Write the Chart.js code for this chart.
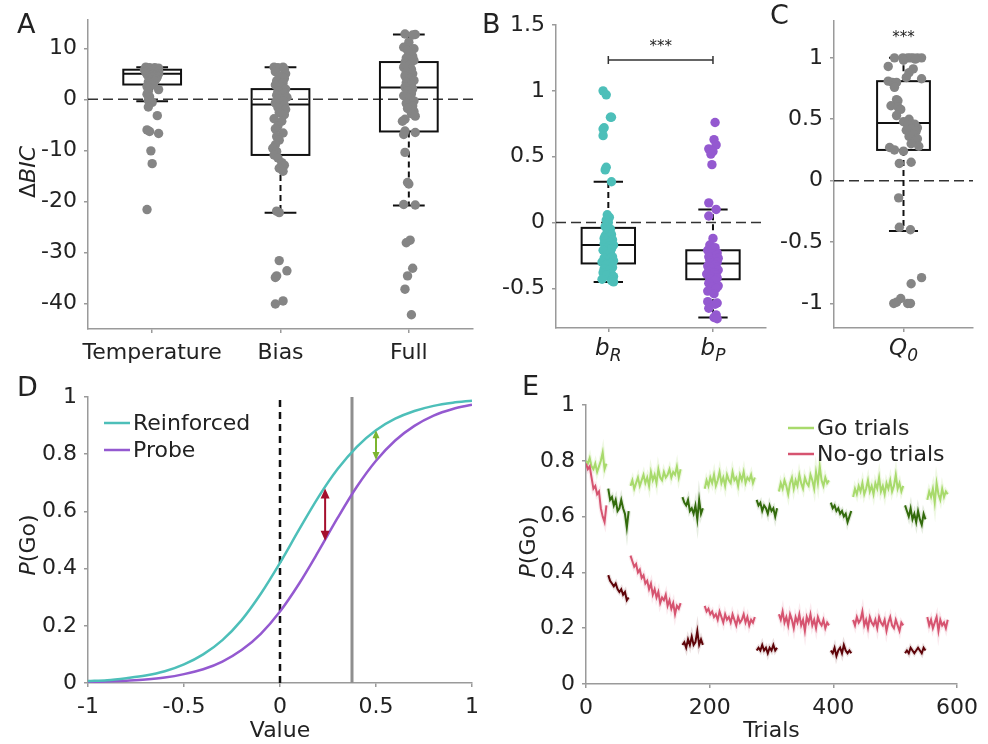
<!DOCTYPE html>
<html>
<head>
<meta charset="utf-8">
<script src="https://cdn.jsdelivr.net/npm/chart.js@4.4.1/dist/chart.umd.min.js"></script>
<style>
  html, body { margin: 0; padding: 0; background: #fff; }
  #fig { position: relative; width: 988px; height: 744px; background: #fff; }
  #fig canvas { position: absolute; }
</style>
</head>
<body>
<div id="fig">
  <canvas id="chartA" width="480" height="370" style="left:0;top:0;width:480px;height:370px"></canvas>
  <canvas id="chartB" width="290" height="370" style="left:480px;top:0;width:290px;height:370px"></canvas>
  <canvas id="chartC" width="218" height="370" style="left:770px;top:0;width:218px;height:370px"></canvas>
  <canvas id="chartD" width="490" height="374" style="left:0;top:370px;width:490px;height:374px"></canvas>
  <canvas id="chartE" width="498" height="374" style="left:490px;top:370px;width:498px;height:374px"></canvas>
</div>
<script>
// ---------- Panel A: delta BIC per model ----------
const aModels = ['Temperature', 'Bias', 'Full'];
const aTicks = [-40, -30, -20, -10, 0, 10];
// box stats: lower whisker, q1, median, q3, upper whisker
const tempBox = [-0.4, 2.9, 5.0, 5.8, 6.3];
const biasBox = [-22.2, -10.9, -1.0, 2.0, 6.3];
const fullBox = [-20.8, -6.3, 2.3, 7.3, 12.7];

const tempVals = [6.3, 6.2, 6.2, 6.1, 6.0, 6.0, 5.9, 5.8, 5.8, 5.7, 5.6, 5.5, 5.5, 5.4, 5.3, 5.2, 5.1, 5.0, 5.0, 4.9,
  4.8, 4.7, 4.6, 4.5, 4.4, 4.3, 4.1, 4.0, 3.8, 3.6, 3.4, 3.2, 3.0, 2.8, 2.5, 1.9, 1.6, 1.0, 0.5, -0.2,
  -0.6, -1.5, -3.2, -6.0, -6.3, -6.7, -10.1, -12.6, -21.6];
const tempJit = [-0.05, 0.02, -0.02, 0.05, -0.04, 0.01, 0.04, -0.06, 0.0, 0.03, -0.03, 0.05, -0.01, 0.02, -0.05, 0.04, -0.02, 0.01, 0.05, -0.04,
  0.03, -0.01, 0.02, -0.03, 0.04, 0.0, -0.02, 0.03, -0.01, 0.02, -0.03, 0.01, -0.02, 0.0, -0.04, 0.05, -0.03, -0.04, -0.02, -0.03,
  0.0, -0.03, 0.04, -0.04, -0.02, 0.05, -0.01, 0.0, -0.04];

const biasVals = [6.3, 6.3, 6.2, 5.9, 5.4, 5.0, 4.6, 4.1, 3.6, 3.2, 2.8, 2.4, 2.0, 1.6, 1.2, 0.8, 0.4, 0.1, -0.3, -0.7,
  -1.1, -1.6, -2.0, -2.6, -3.0, -3.8, -4.3, -5.2, -5.8, -6.6, -7.3, -8.0, -8.9, -9.6, -10.2, -10.9, -11.5, -12.4, -12.9, -13.5,
  -14.1, -21.9, -22.2, -31.6, -33.6, -34.6, -34.9, -39.5, -40.1];
const biasJit = [-0.05, 0.02, -0.02, 0.03, -0.04, 0.04, -0.01, 0.03, -0.03, 0.02, -0.04, 0.01, 0.04, -0.02, 0.03, -0.03, 0.05, -0.01, 0.02, -0.04,
  0.03, -0.02, 0.04, -0.01, 0.03, -0.05, 0.01, -0.02, -0.04, 0.02, -0.03, -0.01, -0.04, -0.06, -0.03, -0.05, -0.02, 0.01, 0.03, -0.01,
  0.02, -0.03, -0.01, -0.01, 0.05, -0.03, -0.04, 0.02, -0.04];

const fullVals = [12.8, 12.7, 12.6, 11.2, 10.2, 9.9, 9.6, 8.4, 8.1, 7.6, 7.2, 6.8, 6.3, 5.9, 5.4, 5.0, 4.6, 4.1, 3.7, 3.3,
  2.8, 2.4, 2.0, 1.6, 1.1, 0.7, 0.2, -0.3, -0.8, -1.3, -1.8, -2.4, -2.8, -3.3, -3.9, -4.3, -6.2, -6.5, -6.9, -10.4,
  -16.3, -16.6, -20.6, -20.7, -27.6, -28.1, -33.1, -34.6, -37.2, -42.2];
const fullJit = [-0.03, 0.05, 0.03, 0.0, -0.04, 0.04, -0.01, 0.03, -0.02, 0.04, -0.03, 0.01, -0.04, 0.02, -0.02, 0.03, -0.03, 0.01, 0.04, -0.02,
  0.02, -0.03, 0.03, -0.01, 0.02, -0.04, 0.01, 0.04, -0.02, 0.03, -0.01, 0.04, 0.02, 0.05, -0.03, -0.05, -0.03, 0.05, -0.04, -0.03,
  -0.01, 0.0, -0.04, 0.05, 0.01, -0.02, 0.03, -0.01, -0.03, 0.02];

// ---------- Panel B: bias parameters ----------
const bParams = [['b', 'R'], ['b', 'P']];
const bTicks = [-0.5, 0, 0.5, 1, 1.5];
const bRBox = [-0.45, -0.31, -0.17, -0.04, 0.31];
const bPBox = [-0.72, -0.43, -0.31, -0.21, 0.10];
const bRVals = [1.00, 0.97, 0.80, 0.80, 0.72, 0.71, 0.66, 0.42, 0.40, 0.31, 0.06, 0.04, 0.02, 0.0, -0.03, -0.05, -0.07, -0.09, -0.10, -0.11,
  -0.12, -0.13, -0.14, -0.15, -0.16, -0.17, -0.18, -0.19, -0.20, -0.21, -0.23, -0.25, -0.26, -0.27, -0.28, -0.29, -0.30, -0.31, -0.32, -0.34,
  -0.35, -0.36, -0.38, -0.39, -0.40, -0.41, -0.43, -0.44, -0.45];
const bRJit = [-0.05, -0.02, 0.02, 0.03, -0.04, -0.05, -0.05, -0.02, -0.03, 0.03, -0.01, 0.01, -0.02, 0.0, -0.03, 0.02, -0.01, 0.03, -0.03, 0.01,
  -0.04, 0.04, -0.02, 0.02, -0.04, 0.05, 0.0, -0.03, 0.03, -0.05, 0.02, -0.02, 0.04, -0.04, 0.01, 0.05, -0.06, 0.02, -0.02, 0.04,
  -0.04, 0.01, -0.05, 0.03, -0.02, 0.05, -0.06, 0.03, 0.05];
const bPVals = [0.76, 0.63, 0.59, 0.56, 0.54, 0.52, 0.44, 0.15, 0.10, 0.05, -0.12, -0.17, -0.19, -0.21, -0.23, -0.24, -0.25, -0.26, -0.27, -0.28,
  -0.29, -0.30, -0.31, -0.32, -0.33, -0.34, -0.35, -0.36, -0.37, -0.38, -0.39, -0.40, -0.41, -0.42, -0.43, -0.44, -0.46, -0.48, -0.49, -0.50,
  -0.52, -0.54, -0.60, -0.61, -0.62, -0.65, -0.70, -0.72, -0.73];
const bPJit = [0.02, 0.01, 0.03, -0.04, 0.0, -0.02, -0.01, -0.04, 0.03, -0.04, 0.0, -0.03, 0.02, -0.05, 0.04, -0.01, 0.03, -0.04, 0.05, 0.01,
  -0.03, 0.04, -0.02, 0.02, -0.05, 0.03, -0.01, 0.05, -0.04, 0.01, -0.06, 0.03, -0.02, 0.04, -0.03, 0.02, -0.04, 0.05, -0.01, 0.03,
  -0.05, 0.01, -0.05, 0.04, 0.02, -0.04, 0.03, 0.01, 0.04];
const bSig = [0, 1, 1.235];     // from, to, height
const bStars = [0.5, 1.37];

// ---------- Panel C: initial Q value ----------
const cParams = [['Q', '0']];
const cTicks = [-1, -0.5, 0, 0.5, 1];
const q0Box = [-0.41, 0.25, 0.47, 0.81, 1.0];
const q0Vals = [1.0, 1.0, 1.0, 1.0, 1.0, 1.0, 1.0, 0.99, 0.98, 0.93, 0.91, 0.88, 0.84, 0.83, 0.81, 0.80, 0.80, 0.76, 0.66, 0.65,
  0.61, 0.60, 0.58, 0.53, 0.50, 0.48, 0.46, 0.45, 0.43, 0.42, 0.41, 0.40, 0.38, 0.36, 0.34, 0.32, 0.30, 0.28, 0.27, 0.25,
  0.24, 0.15, 0.14, -0.14, -0.38, -0.40, -0.79, -0.84, -0.96, -0.99, -1.0, -1.0, -1.0];
const q0Jit = [-0.065, -0.005, 0.03, 0.07, 0.10, 0.13, 0.05, 0.085, 0.0, -0.11, 0.07, 0.04, 0.02, 0.13, -0.11, -0.08, -0.05, -0.065, -0.05, -0.04,
  -0.09, -0.04, -0.02, -0.05, 0.04, 0.0, 0.08, 0.03, 0.10, 0.055, 0.02, 0.09, 0.07, 0.04, 0.10, 0.08, 0.055, 0.11, -0.10, -0.065,
  0.0, 0.055, -0.03, -0.035, -0.03, 0.05, 0.13, 0.055, -0.02, -0.05, -0.07, 0.03, 0.05];
const cStars = [0, 1.2];

// ---------- Panel D: choice curves ----------
const dValue = [-1, -0.9, -0.8, -0.7, -0.6, -0.5, -0.4, -0.3, -0.2, -0.1, 0, 0.1, 0.2, 0.3, 0.4, 0.5, 0.6, 0.7, 0.8, 0.9, 1];
const dReinforced = [0.007, 0.010, 0.017, 0.026, 0.041, 0.065, 0.100, 0.150, 0.220, 0.312, 0.420, 0.537, 0.650, 0.748, 0.826, 0.884, 0.924, 0.951, 0.969, 0.980, 0.987];
const dProbe = [0.003, 0.005, 0.008, 0.012, 0.019, 0.031, 0.048, 0.075, 0.115, 0.172, 0.250, 0.348, 0.460, 0.577, 0.686, 0.777, 0.848, 0.899, 0.935, 0.958, 0.973];
const dTicksX = [-1, -0.5, 0, 0.5, 1];
const dTicksY = [0, 0.2, 0.4, 0.6, 0.8, 1];
const dZeroValue = 0;
const dMarker = 0.375;
const dRedArrow = [0.235, 0.497, 0.68];
const dGreenArrow = [0.5, 0.78, 0.884];

// ---------- Panel E: P(Go) over trials ----------
const eTrialStep = 3;
const eBlockStart = [0, 36, 72, 156, 192, 276, 312, 396, 432, 516, 552];
const eBlockDark = [false, true, false, true, false, true, false, true, false, true, false];
const goBlocks = [
  [0.80, 0.79, 0.81, 0.78, 0.77, 0.79, 0.76, 0.78, 0.80, 0.83, 0.77, 0.79],
  [0.70, 0.66, 0.67, 0.64, 0.66, 0.62, 0.63, 0.66, 0.63, 0.61, 0.56, 0.62],
  [0.71, 0.73, 0.70, 0.72, 0.74, 0.71, 0.73, 0.75, 0.72, 0.74, 0.71, 0.76, 0.73, 0.75, 0.72, 0.77, 0.74, 0.73, 0.76, 0.74, 0.75, 0.77, 0.74, 0.76, 0.75, 0.78, 0.74, 0.77],
  [0.67, 0.65, 0.64, 0.66, 0.62, 0.63, 0.61, 0.64, 0.59, 0.66, 0.61, 0.63],
  [0.70, 0.73, 0.71, 0.74, 0.72, 0.75, 0.71, 0.73, 0.76, 0.72, 0.74, 0.71, 0.75, 0.73, 0.72, 0.76, 0.73, 0.74, 0.71, 0.75, 0.73, 0.76, 0.72, 0.74, 0.73, 0.75, 0.72, 0.74],
  [0.66, 0.64, 0.65, 0.62, 0.64, 0.63, 0.61, 0.64, 0.62, 0.63, 0.60, 0.63],
  [0.69, 0.72, 0.70, 0.73, 0.71, 0.68, 0.72, 0.74, 0.70, 0.73, 0.71, 0.75, 0.72, 0.70, 0.74, 0.72, 0.71, 0.75, 0.73, 0.70, 0.76, 0.72, 0.78, 0.73, 0.71, 0.74, 0.72, 0.73],
  [0.65, 0.63, 0.64, 0.62, 0.63, 0.61, 0.62, 0.60, 0.61, 0.58, 0.60, 0.62],
  [0.67, 0.70, 0.68, 0.71, 0.69, 0.72, 0.68, 0.70, 0.73, 0.69, 0.71, 0.68, 0.72, 0.70, 0.74, 0.69, 0.71, 0.68, 0.72, 0.70, 0.73, 0.69, 0.71, 0.75, 0.70, 0.72, 0.69, 0.71],
  [0.64, 0.62, 0.60, 0.63, 0.59, 0.61, 0.58, 0.62, 0.59, 0.57, 0.61, 0.59],
  [0.66, 0.69, 0.67, 0.70, 0.65, 0.72, 0.68, 0.66, 0.70, 0.67, 0.69, 0.68]
];
const nogoBlocks = [
  [0.79, 0.77, 0.78, 0.74, 0.70, 0.71, 0.68, 0.69, 0.63, 0.60, 0.58, 0.64],
  [0.39, 0.37, 0.36, 0.35, 0.36, 0.34, 0.33, 0.34, 0.32, 0.33, 0.30, 0.31],
  [0.46, 0.44, 0.42, 0.43, 0.40, 0.41, 0.38, 0.39, 0.36, 0.37, 0.34, 0.36, 0.32, 0.34, 0.31, 0.33, 0.29, 0.31, 0.30, 0.32, 0.28, 0.30, 0.27, 0.29, 0.25, 0.28, 0.27, 0.29],
  [0.14, 0.15, 0.13, 0.16, 0.14, 0.17, 0.14, 0.15, 0.19, 0.14, 0.16, 0.14],
  [0.28, 0.26, 0.27, 0.25, 0.26, 0.24, 0.25, 0.23, 0.26, 0.24, 0.22, 0.25, 0.23, 0.24, 0.22, 0.25, 0.23, 0.21, 0.24, 0.22, 0.23, 0.25, 0.22, 0.24, 0.21, 0.23, 0.22, 0.24],
  [0.12, 0.13, 0.12, 0.14, 0.12, 0.13, 0.11, 0.13, 0.12, 0.14, 0.12, 0.13],
  [0.25, 0.23, 0.26, 0.22, 0.24, 0.21, 0.25, 0.23, 0.20, 0.24, 0.22, 0.25, 0.21, 0.23, 0.19, 0.24, 0.22, 0.25, 0.21, 0.23, 0.20, 0.24, 0.22, 0.21, 0.23, 0.20, 0.22, 0.21],
  [0.12, 0.11, 0.13, 0.10, 0.12, 0.13, 0.11, 0.14, 0.12, 0.11, 0.12, 0.11],
  [0.23, 0.21, 0.24, 0.22, 0.23, 0.26, 0.21, 0.23, 0.20, 0.24, 0.22, 0.21, 0.23, 0.20, 0.24, 0.22, 0.21, 0.23, 0.19, 0.22, 0.24, 0.21, 0.20, 0.23, 0.21, 0.19, 0.22, 0.21],
  [0.11, 0.12, 0.11, 0.13, 0.12, 0.11, 0.12, 0.13, 0.12, 0.11, 0.13, 0.12],
  [0.24, 0.21, 0.23, 0.20, 0.22, 0.24, 0.19, 0.23, 0.21, 0.22, 0.20, 0.23]
];
const eTicksX = [0, 200, 400, 600];
const eTicksY = [0, 0.2, 0.4, 0.6, 0.8, 1];

// ---------- styling helpers ----------
const FONT = '"DejaVu Sans", sans-serif';
const TICK_SIZE = 22;
const TXT = '#222';
const AXIS = '#9a9a9a';
const GRAY = '#858585';
const TEAL = '#4dbfb9';
const PURPLE = '#9459d0';
const LIGHT_GREEN = '#a8da6c';
const DARK_GREEN = '#336b0c';
const PINK = '#d65470';
const DARK_RED = '#5e0308';

function fontStr(size, italic) {
  return (italic ? 'italic ' : '') + size + 'px ' + FONT;
}

function tickOpts(cb) {
  return { color: TXT, font: { family: FONT, size: TICK_SIZE }, padding: 7, maxRotation: 0, autoSkip: false, callback: cb };
}

function axis(min, max, ticks, fit, extra) {
  return Object.assign({
    type: 'linear', min: min, max: max, bounds: 'data',
    afterBuildTicks: s => { s.ticks = ticks.map(v => ({ value: v })); },
    afterFit: fit,
    grid: { drawOnChartArea: false, drawTicks: true, tickLength: 4, color: AXIS, lineWidth: 1.5 },
    border: { display: true, color: AXIS, width: 1.5 },
    ticks: tickOpts(v => String(v))
  }, extra || {});
}

// rich text: parts = [{t, it, sub}], centred horizontally at cx, baseline cy
function drawRich(ctx, parts, size, cx, cy) {
  const items = parts.map(p => {
    const sz = p.sub ? Math.round(size * 0.72) : size;
    ctx.font = fontStr(sz, p.it);
    return { p: p, sz: sz, w: ctx.measureText(p.t).width };
  });
  let x = cx - items.reduce((s, i) => s + i.w, 0) / 2;
  ctx.textAlign = 'left';
  items.forEach(i => {
    ctx.font = fontStr(i.sz, i.p.it);
    ctx.fillText(i.p.t, x, cy + (i.p.sub ? size * 0.28 : 0));
    x += i.w;
  });
}

function drawArrow(ctx, x, ya, yb, color, hl, hw) {
  const top = Math.min(ya, yb), bot = Math.max(ya, yb);
  ctx.strokeStyle = color; ctx.fillStyle = color; ctx.lineWidth = 2;
  ctx.beginPath(); ctx.moveTo(x, top + hl - 1); ctx.lineTo(x, bot - hl + 1); ctx.stroke();
  ctx.beginPath();
  ctx.moveTo(x, top); ctx.lineTo(x - hw / 2, top + hl); ctx.lineTo(x + hw / 2, top + hl); ctx.closePath();
  ctx.moveTo(x, bot); ctx.lineTo(x - hw / 2, bot - hl); ctx.lineTo(x + hw / 2, bot - hl); ctx.closePath();
  ctx.fill();
}

// extra drawing: boxes, reference line, labels, arrows, inset legend
function decor(cfg) {
  return {
    id: 'decor',
    beforeDatasetsDraw(chart) {
      const { ctx, chartArea: a, scales: { x, y } } = chart;
      ctx.save();
      if (cfg.zero) {
        const y0 = y.getPixelForValue(0);
        ctx.strokeStyle = '#333'; ctx.lineWidth = 1.5; ctx.setLineDash([10, 5]);
        ctx.beginPath(); ctx.moveTo(a.left, y0); ctx.lineTo(a.right, y0); ctx.stroke();
      }
      (cfg.boxes || []).forEach(b => {
        const [lo, q1, med, q3, hi] = b.stats;
        const xc = x.getPixelForValue(b.pos);
        const hw = x.getPixelForValue(b.pos + cfg.boxWidth / 2) - xc;
        const cw = hw * 0.55;
        ctx.strokeStyle = '#111'; ctx.lineWidth = 2;
        ctx.setLineDash([6, 4]);
        ctx.beginPath();
        ctx.moveTo(xc, y.getPixelForValue(q3)); ctx.lineTo(xc, y.getPixelForValue(hi));
        ctx.moveTo(xc, y.getPixelForValue(q1)); ctx.lineTo(xc, y.getPixelForValue(lo));
        ctx.stroke();
        ctx.setLineDash([]);
        ctx.beginPath();
        [lo, hi].forEach(v => {
          const py = y.getPixelForValue(v);
          ctx.moveTo(xc - cw, py); ctx.lineTo(xc + cw, py);
        });
        const m = y.getPixelForValue(med);
        ctx.moveTo(xc - hw, m); ctx.lineTo(xc + hw, m);
        ctx.stroke();
        const top = y.getPixelForValue(q3), bot = y.getPixelForValue(q1);
        ctx.strokeRect(xc - hw, top, 2 * hw, bot - top);
      });
      ctx.restore();
    },
    afterDraw(chart) {
      const { ctx, chartArea: a, scales: { x, y } } = chart;
      ctx.save();
      ctx.fillStyle = TXT;
      ctx.textBaseline = 'alphabetic';
      if (cfg.letter) {
        ctx.font = fontStr(27, false); ctx.textAlign = 'left';
        ctx.fillText(cfg.letter[0], cfg.letter[1], cfg.letter[2]);
      }
      if (cfg.yTitle) {
        ctx.translate(cfg.yTitle.x, cfg.yTitle.y);
        ctx.rotate(-Math.PI / 2);
        drawRich(ctx, cfg.yTitle.parts, 22, 0, 8);
        ctx.setTransform(1, 0, 0, 1, 0, 0);
      }
      (cfg.xLabels || []).forEach((l, i) => {
        drawRich(ctx, [{ t: l[0], it: true }, { t: l[1], it: true, sub: true }], 23,
          x.getPixelForValue(i), x.top + 27);
      });
      if (cfg.sig) {
        const [f, t, h] = cfg.sig;
        const x0 = x.getPixelForValue(f), x1 = x.getPixelForValue(t), py = y.getPixelForValue(h);
        ctx.strokeStyle = '#333'; ctx.lineWidth = 1.5;
        ctx.beginPath();
        ctx.moveTo(x0, py); ctx.lineTo(x1, py);
        ctx.moveTo(x0, py - 4); ctx.lineTo(x0, py + 4);
        ctx.moveTo(x1, py - 4); ctx.lineTo(x1, py + 4);
        ctx.stroke();
      }
      if (cfg.stars) {
        ctx.font = fontStr(15, false); ctx.textAlign = 'center';
        ctx.fillText('***', x.getPixelForValue(cfg.stars[0]), y.getPixelForValue(cfg.stars[1]) + 9);
      }
      (cfg.arrows || []).forEach(ar => {
        drawArrow(ctx, x.getPixelForValue(ar.v[0]), y.getPixelForValue(ar.v[1]), y.getPixelForValue(ar.v[2]),
          ar.color, ar.hl, ar.hw);
      });
      if (cfg.legend) {
        const L = cfg.legend;
        ctx.font = fontStr(22, false); ctx.textAlign = 'left'; ctx.textBaseline = 'middle';
        L.items.forEach((it, i) => {
          const py = a.top + L.dy + i * L.gap, px = a.left + L.dx;
          ctx.strokeStyle = it[1]; ctx.lineWidth = 2.5;
          ctx.beginPath(); ctx.moveTo(px, py); ctx.lineTo(px + 26, py); ctx.stroke();
          ctx.fillStyle = TXT;
          ctx.fillText(it[0], px + 29, py + 1);
        });
      }
      ctx.restore();
    }
  };
}

function baseOptions(pad, scales) {
  return {
    responsive: false, animation: false, events: [],
    layout: { padding: pad },
    plugins: { legend: { display: false }, tooltip: { enabled: false } },
    scales: scales
  };
}

function jittered(vals, jit, pos) {
  return vals.map((v, i) => ({ x: pos + jit[i], y: v }));
}

function dots(vals, jit, pos, color) {
  return { data: jittered(vals, jit, pos), backgroundColor: color, borderWidth: 0, pointRadius: 4.7 };
}

// ---------- A ----------
new Chart(document.getElementById('chartA'), {
  type: 'scatter',
  data: { datasets: [
    dots(tempVals, tempJit, 0, GRAY),
    dots(biasVals, biasJit, 1, GRAY),
    dots(fullVals, fullJit, 2, GRAY)
  ] },
  options: baseOptions({ left: 0, top: 15, right: 7, bottom: 0 }, {
    x: axis(-0.5, 2.5, [0, 1, 2], s => { s.height = 41; }, { ticks: tickOpts(v => aModels[v] || '') }),
    y: axis(-45, 15.5, aTicks, s => { s.width = 88; })
  }),
  plugins: [decor({
    zero: true, boxWidth: 0.45,
    boxes: [{ pos: 0, stats: tempBox }, { pos: 1, stats: biasBox }, { pos: 2, stats: fullBox }],
    letter: ['A', 17, 33],
    yTitle: { x: 27, y: 172, parts: [{ t: 'Δ' }, { t: 'BIC', it: true }] }
  })]
});

// ---------- B ----------
new Chart(document.getElementById('chartB'), {
  type: 'scatter',
  data: { datasets: [
    dots(bRVals, bRJit, 0, TEAL),
    dots(bPVals, bPJit, 1, PURPLE)
  ] },
  options: baseOptions({ left: 0, top: 25, right: 3, bottom: 0 }, {
    x: axis(-0.5, 1.5, [0, 1], s => { s.height = 42; }, { ticks: tickOpts(() => '') }),
    y: axis(-0.8, 1.5, bTicks, s => { s.width = 76; })
  }),
  plugins: [decor({
    zero: true, boxWidth: 0.51,
    boxes: [{ pos: 0, stats: bRBox }, { pos: 1, stats: bPBox }],
    letter: ['B', 2, 33],
    xLabels: bParams,
    sig: bSig, stars: bStars
  })]
});

// ---------- C ----------
new Chart(document.getElementById('chartC'), {
  type: 'scatter',
  data: { datasets: [dots(q0Vals, q0Jit, 0, GRAY)] },
  options: baseOptions({ left: 0, top: 21, right: 15, bottom: 0 }, {
    x: axis(-0.5, 0.5, [0], s => { s.height = 42; }, { ticks: tickOpts(() => '') }),
    y: axis(-1.2, 1.3, cTicks, s => { s.width = 64; })
  }),
  plugins: [decor({
    zero: true, boxWidth: 0.38,
    boxes: [{ pos: 0, stats: q0Box }],
    letter: ['C', 0, 24],
    xLabels: cParams,
    stars: cStars
  })]
});

// ---------- D ----------
new Chart(document.getElementById('chartD'), {
  type: 'line',
  data: { datasets: [
    { label: 'Reinforced', data: dValue.map((v, i) => ({ x: v, y: dReinforced[i] })), borderColor: TEAL,
      borderWidth: 2.5, pointRadius: 0, cubicInterpolationMode: 'monotone' },
    { label: 'Probe', data: dValue.map((v, i) => ({ x: v, y: dProbe[i] })), borderColor: PURPLE,
      borderWidth: 2.5, pointRadius: 0, cubicInterpolationMode: 'monotone' },
    { data: [{ x: dZeroValue, y: 0 }, { x: dZeroValue, y: 1 }], borderColor: '#111', borderWidth: 2.5,
      borderDash: [7, 5], pointRadius: 0 },
    { data: [{ x: dMarker, y: 0 }, { x: dMarker, y: 1 }], borderColor: '#8f8f8f', borderWidth: 3, pointRadius: 0 }
  ] },
  options: baseOptions({ left: 0, top: 27, right: 18, bottom: 0 }, {
    x: axis(-1, 1, dTicksX, s => { s.height = 61; },
      { title: { display: true, text: 'Value', color: TXT, font: { family: FONT, size: 22 }, padding: { top: 0, bottom: 0 } } }),
    y: axis(0, 1, dTicksY, s => { s.width = 88; })
  }),
  plugins: [decor({
    letter: ['D', 17, 396 - 370],
    yTitle: { x: 27, y: 175, parts: [{ t: 'P', it: true }, { t: '(Go)' }] },
    arrows: [
      { v: dRedArrow, color: '#a50f2d', hl: 10, hw: 9 },
      { v: dGreenArrow, color: '#7cb52f', hl: 8, hw: 7 }
    ],
    legend: { dx: 16, dy: 26, gap: 27, items: [['Reinforced', TEAL], ['Probe', PURPLE]] }
  })]
});

// ---------- E ----------
function blockSeries(blocks, dark) {
  const pts = [];
  blocks.forEach((b, k) => {
    if (eBlockDark[k] !== dark) return;
    b.forEach((v, i) => pts.push({ x: eBlockStart[k] + i * eTrialStep, y: v }));
    pts.push({ x: eBlockStart[k] + b.length * eTrialStep, y: null });
  });
  return pts;
}
function trace(data, color, width, order) {
  return { data: data, borderColor: color, borderWidth: width, pointRadius: 0, tension: 0, spanGaps: false, order: order };
}
new Chart(document.getElementById('chartE'), {
  type: 'line',
  data: { datasets: [
    trace(blockSeries(nogoBlocks, false), PINK, 2, 0),
    trace(blockSeries(nogoBlocks, true), DARK_RED, 2, 1),
    trace(blockSeries(goBlocks, false), LIGHT_GREEN, 2, 2),
    trace(blockSeries(goBlocks, true), DARK_GREEN, 2, 3),
    trace(blockSeries(nogoBlocks, false), 'rgba(214,84,112,0.12)', 4.5, 4),
    trace(blockSeries(nogoBlocks, true), 'rgba(94,3,8,0.12)', 4.5, 5),
    trace(blockSeries(goBlocks, false), 'rgba(168,218,108,0.18)', 4.5, 6),
    trace(blockSeries(goBlocks, true), 'rgba(51,107,12,0.12)', 4.5, 7)
  ] },
  options: baseOptions({ left: 0, top: 35, right: 31, bottom: 0 }, {
    x: axis(0, 600, eTicksX, s => { s.height = 60; },
      { title: { display: true, text: 'Trials', color: TXT, font: { family: FONT, size: 22 }, padding: { top: 0, bottom: 0 } } }),
    y: axis(0, 1, eTicksY, s => { s.width = 96; })
  }),
  plugins: [decor({
    letter: ['E', 32, 395 - 370],
    yTitle: { x: 37, y: 177, parts: [{ t: 'P', it: true }, { t: '(Go)' }] },
    legend: { dx: 202, dy: 23, gap: 26, items: [['Go trials', LIGHT_GREEN], ['No-go trials', PINK]] }
  })]
});
</script>
</body>
</html>
